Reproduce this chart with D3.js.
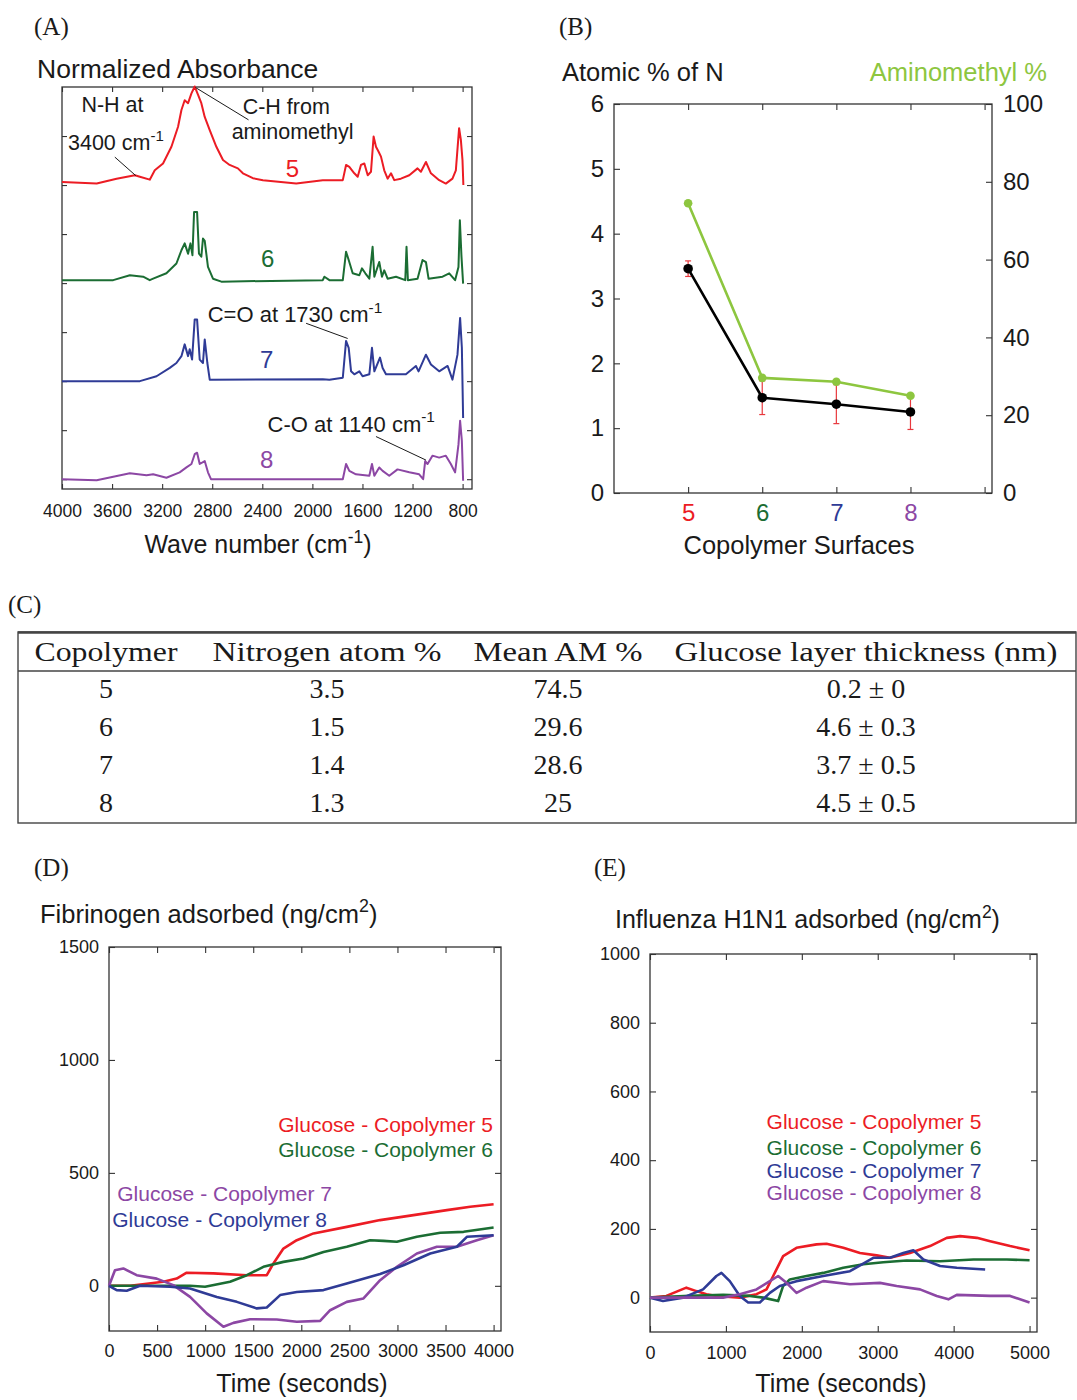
<!DOCTYPE html>
<html>
<head>
<meta charset="utf-8">
<script src="https://cdn.jsdelivr.net/npm/d3@7"></script>
<style>
  body { margin: 0; background: #fff; }
</style>
</head>
<body>
<script>
// ---- data -----------------------------------------------------------------

// (A) FTIR spectra, [wave number, absorbance above baseline]
const waveTicks = [4000, 3600, 3200, 2800, 2400, 2000, 1600, 1200, 800];
const spectrumOffsets = [6.06, 4.06, 2.0, 0.0];
const spectrum5 = [[4000,0],[3723,-0.03],[3564,0.07],[3418,0.14],[3378,0.11],[3299,0.05],[3259,0.24],[3193,0.38],[3126,0.72],[3073,1.13],[3046,1.47],[3020,1.67],[2993,1.61],[2966,1.81],[2940,1.95],[2913,1.78],[2887,1.61],[2860,1.33],[2820,1.06],[2767,0.72],[2714,0.45],[2661,0.35],[2595,0.28],[2555,0.18],[2475,0.08],[2395,0.04],[2129,-0.03],[1917,0.04],[1864,0.04],[1757,0.04],[1731,0.35],[1705,0.31],[1665,0.18],[1638,0.11],[1612,0.35],[1585,0.38],[1558,0.14],[1532,0.21],[1511,0.93],[1492,0.72],[1471,0.62],[1452,0.52],[1426,0.24],[1399,0.07],[1372,0.18],[1346,0.04],[1293,0.07],[1226,0.14],[1160,0.28],[1133,0.21],[1093,0.41],[1053,0.18],[987,0.04],[934,-0.03],[881,0.07],[854,0.24],[828,1.10],[814,0.86],[801,0.45],[794,-0.06]];
const spectrum6 = [[4000,0],[3591,0],[3458,0.1],[3352,0.07],[3299,0],[3272,0.03],[3166,0.14],[3086,0.34],[3046,0.61],[3020,0.75],[2993,0.54],[2974,0.75],[2958,0.51],[2945,1.39],[2921,1.39],[2906,0.54],[2887,0.48],[2874,0.85],[2860,0.8],[2834,0.27],[2794,0.03],[2727,-0.03],[1917,0],[1904,0.07],[1864,0],[1757,0],[1731,0.58],[1710,0.41],[1678,0.14],[1625,0.1],[1604,0.24],[1577,0.14],[1545,0.03],[1519,0.68],[1505,0.07],[1466,0.37],[1444,0.07],[1426,0.2],[1399,0.03],[1332,0.07],[1258,0],[1248,0.68],[1237,0],[1160,0.03],[1120,0.41],[1093,0.37],[1072,0.03],[960,0.07],[907,0.14],[860,0],[833,0.27],[822,1.22],[809,0.48],[796,-0.07]];
const spectrum7 = [[4000,0],[3378,0],[3245,0.1],[3139,0.27],[3086,0.37],[3046,0.51],[3020,0.75],[2993,0.51],[2980,0.65],[2961,0.44],[2940,1.26],[2921,1.26],[2900,0.44],[2874,0.37],[2860,0.85],[2839,0.37],[2820,0.03],[1917,0.04],[1864,0.03],[1757,0.07],[1731,0.82],[1710,0.68],[1691,0.2],[1665,0.14],[1625,0.2],[1599,0.1],[1545,0.14],[1524,0.68],[1505,0.2],[1460,0.48],[1439,0.27],[1412,0.14],[1332,0.14],[1253,0.14],[1173,0.31],[1152,0.2],[1093,0.54],[1053,0.34],[987,0.2],[920,0.31],[881,0.03],[841,0.54],[820,1.29],[806,0.68],[796,-0.75]];
const spectrum8 = [[4000,0],[3723,-0.02],[3458,0.12],[3325,0.08],[3272,0.1],[3166,0.03],[3060,0.14],[3006,0.24],[2966,0.31],[2940,0.51],[2921,0.54],[2900,0.31],[2860,0.37],[2834,0.14],[2810,0],[1864,0],[1757,0],[1731,0.31],[1705,0.17],[1652,0.1],[1545,0.07],[1524,0.31],[1505,0.07],[1466,0.24],[1439,0.17],[1386,0.07],[1320,0.2],[1226,0.14],[1147,0.1],[1115,0],[1099,0.37],[1080,0.31],[1041,0.48],[987,0.44],[934,0.48],[894,0.31],[860,0.14],[833,0.71],[820,1.19],[806,0.78],[796,-0.03]];

// (B) surface composition
const copolymers = [5, 6, 7, 8];
const nitrogenPct = [3.46, 1.47, 1.37, 1.25];
const nitrogenErr = [0.12, 0.26, 0.30, 0.27];
const aminomethylPct = [74.5, 29.6, 28.6, 25.0];

// (C) table
const tableHeader = ['Copolymer', 'Nitrogen atom %', 'Mean AM %', 'Glucose layer thickness (nm)'];
const tableRows = [
    ['5', '3.5', '74.5', '0.2 \u00b1 0'],
    ['6', '1.5', '29.6', '4.6 \u00b1 0.3'],
    ['7', '1.4', '28.6', '3.7 \u00b1 0.5'],
    ['8', '1.3', '25', '4.5 \u00b1 0.5']
];

// (D) fibrinogen adsorbed, [time s, ng/cm2]
const fibrinogen5 = [[0,0],[219,0],[565,18],[704,32],[808,58],[1086,55],[1433,47],[1641,47],[1710,99],[1814,165],[1953,202],[2127,232],[2473,261],[2820,291],[3167,313],[3514,335],[3757,350],[4000,361]];
const fibrinogen6 = [[0,0],[565,0],[843,0],[999,-4],[1259,18],[1433,47],[1606,84],[1814,106],[2022,121],[2231,150],[2473,173],[2716,202],[2855,199],[2994,195],[3202,217],[3445,235],[3688,239],[4000,258]];
const fibrinogen7 = [[0,0],[62,69],[149,77],[288,47],[496,32],[669,3],[843,-49],[1016,-122],[1190,-181],[1294,-164],[1467,-148],[1745,-149],[1953,-159],[2196,-155],[2300,-108],[2473,-71],[2647,-56],[2820,25],[2994,84],[3202,143],[3410,173],[3618,173],[3826,202],[4000,224]];
const fibrinogen8 = [[0,0],[80,-19],[184,-22],[323,0],[635,-4],[843,-12],[1121,-49],[1329,-71],[1537,-100],[1641,-96],[1780,-41],[1953,-27],[2231,-19],[2473,10],[2820,52],[3063,91],[3341,143],[3618,173],[3722,217],[4000,224]];

// (E) influenza H1N1 adsorbed, [time s, ng/cm2]
const h1n1_5 = [[0,0],[215,5],[479,29],[611,19],[743,10],[875,5],[1183,0],[1403,10],[1535,24],[1623,63],[1754,121],[1930,145],[2194,155],[2326,157],[2546,145],[2766,130],[2986,123],[3161,116],[3425,130],[3689,150],[3909,174],[4085,179],[4305,174],[4481,164],[4744,150],[5000,138]];
const h1n1_6 = [[0,0],[523,5],[963,8],[1315,5],[1491,0],[1688,-10],[1754,34],[1842,53],[2062,63],[2282,72],[2546,87],[2810,97],[3073,103],[3381,108],[3821,106],[4261,111],[4701,111],[5000,109]];
const h1n1_7 = [[0,0],[171,-10],[435,0],[699,24],[875,63],[941,72],[1051,48],[1183,5],[1293,-14],[1447,-14],[1579,14],[1710,34],[1930,48],[2282,63],[2634,77],[2942,116],[3161,116],[3337,130],[3469,138],[3601,111],[3821,92],[4041,87],[4415,82]];
const h1n1_8 = [[0,0],[523,0],[963,0],[1183,10],[1403,24],[1579,48],[1688,63],[1798,43],[1930,14],[2062,29],[2282,48],[2634,39],[3029,43],[3249,34],[3557,24],[3777,5],[3931,-5],[4041,8],[4481,5],[4744,5],[5000,-14]];

// ---- styling ----------------------------------------------------------------
const SANS = '"Liberation Sans", Arial, Helvetica, sans-serif';
const SERIF = '"Liberation Serif", "DejaVu Serif", serif';
const RED = '#ec1c24', GREEN = '#1b6d33', BLUE = '#2f3b96', PURPLE = '#8c47a4', LIME = '#8dc63f';
const INK = '#1a1a1a', AXIS = '#333';

const svg = d3.select('body').append('svg')
    .attr('width', 1077)
    .attr('height', 1400)
    .style('font-family', SANS);

// text with a superscript part
function supText(g, x, y, before, sup, after, size, anchor) {
    const t = g.append('text')
        .attr('x', x).attr('y', y)
        .attr('font-size', size)
        .attr('fill', INK)
        .attr('text-anchor', anchor || 'start');
    t.append('tspan').text(before);
    t.append('tspan').attr('dy', -size * 0.42).attr('font-size', size * 0.7).text(sup);
    t.append('tspan').attr('dy', size * 0.42).text(after);
    return t;
}

// box frame with inward ticks on all four sides
function frameAxes(g, x, y, o) {
    const [xl, xr] = x.range();
    const [yb, yt] = y.range();
    const styleAxis = sel => {
        sel.select('.domain').remove();
        sel.selectAll('line').attr('stroke', AXIS).attr('stroke-width', 1.1);
        sel.selectAll('text').attr('fill', INK).attr('font-family', SANS).attr('font-size', o.fontSize);
    };
    const bottom = g.append('g')
        .attr('transform', `translate(0,${yb})`)
        .call(d3.axisBottom(x).tickValues(o.xTicks).tickSize(-o.tick).tickSizeOuter(0)
            .tickPadding(o.xPad).tickFormat(o.xFormat || d3.format('d')))
        .call(styleAxis);
    g.append('g')
        .attr('transform', `translate(0,${yt})`)
        .call(d3.axisTop(x).tickValues(o.xTicks).tickSize(-o.tick).tickSizeOuter(0).tickFormat(''))
        .call(styleAxis);
    g.append('g')
        .attr('transform', `translate(${xl},0)`)
        .call(d3.axisLeft(y).tickValues(o.yTicks).tickSize(-o.tick).tickSizeOuter(0)
            .tickPadding(o.yPad).tickFormat(o.yLabels ? d3.format('d') : ''))
        .call(styleAxis);
    const right = g.append('g')
        .attr('transform', `translate(${xr},0)`);
    if (o.rightScale) {
        right.call(d3.axisRight(o.rightScale).tickValues(o.rightTicks).tickSize(-o.tick).tickSizeOuter(0)
            .tickPadding(o.rightPad).tickFormat(d3.format('d')));
    } else {
        right.call(d3.axisRight(y).tickValues(o.yTicks).tickSize(-o.tick).tickSizeOuter(0).tickFormat(''));
    }
    right.call(styleAxis);
    g.append('rect')
        .attr('x', xl).attr('y', yt)
        .attr('width', xr - xl).attr('height', yb - yt)
        .attr('fill', 'none')
        .attr('stroke', AXIS)
        .attr('stroke-width', 1.3);
    return bottom;
}

function panelLabel(x, y, s) {
    svg.append('text')
        .attr('x', x).attr('y', y)
        .attr('font-family', SERIF)
        .attr('font-size', 25)
        .attr('fill', INK)
        .text(s);
}

// ---- (A) spectra ----------------------------------------------------------------
panelLabel(34, 35, '(A)');
const gA = svg.append('g');
const xA = d3.scaleLinear().domain([4000, 725]).range([62, 472]);
const yA = d3.scaleLinear().domain([-0.2, 8]).range([489, 87]);

frameAxes(gA, xA, yA, {
    xTicks: waveTicks, yTicks: d3.range(0, 8), tick: 5,
    xPad: 16, yPad: 6, fontSize: 17.5
});

[spectrum5, spectrum6, spectrum7, spectrum8].forEach((s, i) => {
    const off = spectrumOffsets[i];
    const line = d3.line()
        .x(d => xA(d[0]))
        .y(d => yA(d[1] + off));
    gA.append('path')
        .datum(s)
        .attr('d', line)
        .attr('fill', 'none')
        .attr('stroke', [RED, GREEN, BLUE, PURPLE][i])
        .attr('stroke-width', 2)
        .attr('stroke-linejoin', 'round');
});

// spectrum numbers
const specNumbers = [[2159, 6.17, '5', RED], [2358, 4.33, '6', GREEN], [2366, 2.26, '7', BLUE], [2366, 0.22, '8', PURPLE]];
specNumbers.forEach(d => {
    gA.append('text')
        .attr('x', xA(d[0])).attr('y', yA(d[1]))
        .attr('text-anchor', 'middle')
        .attr('font-size', 24)
        .attr('fill', d[3])
        .text(d[2]);
});

// annotations: leader lines in data units
const leaders = [
    [[3578, 6.57], [3410, 6.19]],
    [[2934, 7.99], [2510, 7.33]],
    [[2050, 3.18], [1718, 2.87]],
    [[1492, 0.87], [1093, 0.39]]
];
leaders.forEach(l => {
    gA.append('line')
        .attr('x1', xA(l[0][0])).attr('y1', yA(l[0][1]))
        .attr('x2', xA(l[1][0])).attr('y2', yA(l[1][1]))
        .attr('stroke', INK)
        .attr('stroke-width', 1);
});
gA.append('text').attr('x', xA(3845)).attr('y', yA(7.49))
    .attr('font-size', 21.5).attr('fill', INK).text('N-H at');
supText(gA, xA(3952), yA(6.72), '3400 cm', '-1', '', 21.5);
gA.append('text').attr('x', xA(2557)).attr('y', yA(7.45))
    .attr('font-size', 21.5).attr('fill', INK).text('C-H from');
gA.append('text').attr('x', xA(2645)).attr('y', yA(6.94))
    .attr('font-size', 21.5).attr('fill', INK).text('aminomethyl');
supText(gA, xA(2836), yA(3.21), 'C=O at 1730 cm', '-1', '', 22);
supText(gA, xA(2358), yA(0.97), 'C-O at 1140 cm', '-1', '', 22);

gA.append('text')
    .attr('x', 37).attr('y', 78)
    .attr('font-size', 26.5).attr('fill', INK)
    .text('Normalized Absorbance');
supText(gA, 258, 553, 'Wave number (cm', '-1', ')', 25, 'middle');

// ---- (B) composition ----------------------------------------------------------------
panelLabel(559, 35, '(B)');
const gB = svg.append('g');
const xB = d3.scaleLinear().domain([4, 9.1]).range([614, 992]);
const yB = d3.scaleLinear().domain([0, 6]).range([493, 104]);
const yB2 = d3.scaleLinear().domain([0, 100]).range([493, 104]);

const bottomB = frameAxes(gB, xB, yB, {
    xTicks: [5, 6, 7, 8, 9], yTicks: d3.range(0, 7), tick: 6,
    xPad: 11, yPad: 10, fontSize: 24, yLabels: true,
    xFormat: d => d < 9 ? d : '',
    rightScale: yB2, rightTicks: [0, 20, 40, 60, 80, 100], rightPad: 11
});
const catColors = [RED, GREEN, BLUE, PURPLE];
bottomB.selectAll('.tick text')
    .attr('fill', d => catColors[copolymers.indexOf(d)] || INK);

// error bars
copolymers.forEach((c, i) => {
    const x = xB(c);
    const y0 = yB(nitrogenPct[i] - nitrogenErr[i]);
    const y1 = yB(nitrogenPct[i] + nitrogenErr[i]);
    gB.append('line').attr('x1', x).attr('x2', x).attr('y1', y0).attr('y2', y1)
        .attr('stroke', '#e8383d').attr('stroke-width', 1.2);
    [y0, y1].forEach(yy => {
        gB.append('line').attr('x1', x - 3).attr('x2', x + 3).attr('y1', yy).attr('y2', yy)
            .attr('stroke', '#e8383d').attr('stroke-width', 1.2);
    });
});

const nLine = d3.line().x((d, i) => xB(copolymers[i])).y(d => yB(d));
const amLine = d3.line().x((d, i) => xB(copolymers[i])).y(d => yB2(d));
gB.append('path').datum(nitrogenPct).attr('d', nLine)
    .attr('fill', 'none').attr('stroke', '#000').attr('stroke-width', 2.6);
gB.append('path').datum(aminomethylPct).attr('d', amLine)
    .attr('fill', 'none').attr('stroke', LIME).attr('stroke-width', 2.6);
gB.selectAll('.ndot').data(nitrogenPct).enter().append('circle')
    .attr('cx', (d, i) => xB(copolymers[i])).attr('cy', d => yB(d))
    .attr('r', 4.8).attr('fill', '#000');
gB.selectAll('.amdot').data(aminomethylPct).enter().append('circle')
    .attr('cx', (d, i) => xB(copolymers[i])).attr('cy', d => yB2(d))
    .attr('r', 4.3).attr('fill', LIME);

gB.append('text').attr('x', 562).attr('y', 81)
    .attr('font-size', 25.5).attr('fill', INK).text('Atomic % of N');
gB.append('text').attr('x', 1047).attr('y', 81)
    .attr('text-anchor', 'end')
    .attr('font-size', 25.5).attr('fill', LIME).text('Aminomethyl %');
gB.append('text').attr('x', 799).attr('y', 554)
    .attr('text-anchor', 'middle')
    .attr('font-size', 25.5).attr('fill', INK).text('Copolymer Surfaces');

// ---- (C) table ----------------------------------------------------------------
panelLabel(8, 613, '(C)');
const gC = svg.append('g').attr('font-family', SERIF);
const colCenters = [106, 327, 558, 866];
const headWidths = [143, 229, 169, 383];
const rowBaselines = [698, 736, 774, 812];
gC.append('rect')
    .attr('x', 18).attr('y', 632)
    .attr('width', 1058).attr('height', 191)
    .attr('fill', 'none').attr('stroke', '#444').attr('stroke-width', 1.4);
gC.append('line').attr('x1', 18).attr('x2', 1076).attr('y1', 632.5).attr('y2', 632.5)
    .attr('stroke', '#444').attr('stroke-width', 2.4);
gC.append('line').attr('x1', 18).attr('x2', 1076).attr('y1', 671).attr('y2', 671)
    .attr('stroke', '#444').attr('stroke-width', 1.6);
tableHeader.forEach((h, i) => {
    gC.append('text')
        .attr('x', colCenters[i] - headWidths[i] / 2).attr('y', 661)
        .attr('font-size', 28).attr('fill', INK)
        .attr('textLength', headWidths[i])
        .attr('lengthAdjust', 'spacingAndGlyphs')
        .text(h);
});
tableRows.forEach((r, j) => {
    r.forEach((v, i) => {
        gC.append('text')
            .attr('x', colCenters[i]).attr('y', rowBaselines[j])
            .attr('text-anchor', 'middle')
            .attr('font-size', 28).attr('fill', INK)
            .text(v);
    });
});

// ---- (D) fibrinogen ----------------------------------------------------------------
panelLabel(34, 876, '(D)');
const gD = svg.append('g');
const xD = d3.scaleLinear().domain([0, 4077]).range([109, 501]);
const yD = d3.scaleLinear().domain([-200, 1500]).range([1331, 947]);
frameAxes(gD, xD, yD, {
    xTicks: d3.range(0, 4001, 500), yTicks: [0, 500, 1000, 1500], tick: 6,
    xPad: 13, yPad: 10, fontSize: 18, yLabels: true
});
const adsLine = (x, y) => d3.line().x(d => x(d[0])).y(d => y(d[1]));
[[fibrinogen5, RED], [fibrinogen6, GREEN], [fibrinogen7, PURPLE], [fibrinogen8, BLUE]].forEach(s => {
    gD.append('path').datum(s[0]).attr('d', adsLine(xD, yD))
        .attr('fill', 'none').attr('stroke', s[1])
        .attr('stroke-width', 2.6).attr('stroke-linejoin', 'round');
});
const legendD = [
    ['Glucose - Copolymer 5', RED, 3994, 680, 'end'],
    ['Glucose - Copolymer 6', GREEN, 3994, 570, 'end'],
    ['Glucose - Copolymer 7', PURPLE, 86, 375, 'start'],
    ['Glucose - Copolymer 8', BLUE, 34, 260, 'start']
];
legendD.forEach(l => {
    gD.append('text')
        .attr('x', xD(l[2])).attr('y', yD(l[3]))
        .attr('text-anchor', l[4])
        .attr('font-size', 21).attr('fill', l[1])
        .text(l[0]);
});
supText(gD, 40, 923, 'Fibrinogen adsorbed (ng/cm', '2', ')', 25.5);
gD.append('text').attr('x', 302).attr('y', 1392)
    .attr('text-anchor', 'middle')
    .attr('font-size', 25).attr('fill', INK).text('Time (seconds)');

// ---- (E) influenza ----------------------------------------------------------------
panelLabel(594, 876, '(E)');
const gE = svg.append('g');
const xE = d3.scaleLinear().domain([0, 5098]).range([650, 1037]);
const yE = d3.scaleLinear().domain([-100, 1000]).range([1332, 954]);
frameAxes(gE, xE, yE, {
    xTicks: d3.range(0, 5001, 1000), yTicks: d3.range(0, 1001, 200), tick: 6,
    xPad: 14, yPad: 10, fontSize: 18, yLabels: true
});
[[h1n1_5, RED], [h1n1_6, GREEN], [h1n1_7, BLUE], [h1n1_8, PURPLE]].forEach(s => {
    gE.append('path').datum(s[0]).attr('d', adsLine(xE, yE))
        .attr('fill', 'none').attr('stroke', s[1])
        .attr('stroke-width', 2.6).attr('stroke-linejoin', 'round');
});
const legendE = [
    ['Glucose - Copolymer 5', RED, 490],
    ['Glucose - Copolymer 6', GREEN, 416],
    ['Glucose - Copolymer 7', BLUE, 348],
    ['Glucose - Copolymer 8', PURPLE, 283]
];
legendE.forEach(l => {
    gE.append('text')
        .attr('x', xE(1536)).attr('y', yE(l[2]))
        .attr('font-size', 21).attr('fill', l[1])
        .text(l[0]);
});
supText(gE, 615, 928, 'Influenza H1N1 adsorbed (ng/cm', '2', ')', 25);
gE.append('text').attr('x', 841).attr('y', 1392)
    .attr('text-anchor', 'middle')
    .attr('font-size', 25).attr('fill', INK).text('Time (seconds)');
</script>
</body>
</html>
